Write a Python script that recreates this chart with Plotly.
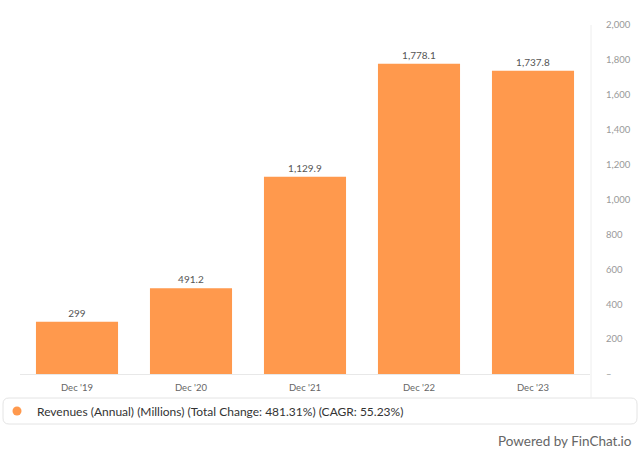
import plotly.graph_objects as go

periods = ["Dec '19", "Dec '20", "Dec '21", "Dec '22", "Dec '23"]
revenues = [299.0, 491.2, 1129.9, 1778.1, 1737.8]
value_labels = ["299", "491.2", "1,129.9", "1,778.1", "1,737.8"]
y_ticks = [0, 200, 400, 600, 800, 1000, 1200, 1400, 1600, 1800, 2000]
y_tick_text = ["–", "200", "400", "600", "800", "1,000", "1,200", "1,400", "1,600", "1,800", "2,000"]
series_name = "Revenues (Annual) (Millions) (Total Change: 481.31%) (CAGR: 55.23%)"

ORANGE = "#ff994d"
FONT = "Lato, Inter, sans-serif"

# plot area in pixels: l=20, r=50, t=25, b=79
L, R, T, B = 20, 50, 25, 79
pw, ph = 640 - L - R, 453 - T - B


def px(x):
    return (x - L) / pw


def py(y):
    return (453 - B - y) / ph


fig = go.Figure()
fig.add_trace(go.Bar(
    x=periods, y=revenues, width=0.72,
    marker=dict(color=ORANGE, line=dict(width=0)),
    text=value_labels, textposition="outside", cliponaxis=False,
    textfont=dict(size=10, color="#555555", family=FONT),
    showlegend=False, hoverinfo="skip",
))
# legend entry with a round marker
fig.add_trace(go.Scatter(
    x=[None], y=[None], mode="markers", name=series_name,
    marker=dict(color=ORANGE, size=9, symbol="circle"),
))

# rounded legend box
x0, x1, y0, y1, r = 3, 637, 398, 424, 6
path = (f"M {px(x0 + r)},{py(y0)} L {px(x1 - r)},{py(y0)} Q {px(x1)},{py(y0)} {px(x1)},{py(y0 + r)} "
        f"L {px(x1)},{py(y1 - r)} Q {px(x1)},{py(y1)} {px(x1 - r)},{py(y1)} L {px(x0 + r)},{py(y1)} "
        f"Q {px(x0)},{py(y1)} {px(x0)},{py(y1 - r)} L {px(x0)},{py(y0 + r)} Q {px(x0)},{py(y0)} {px(x0 + r)},{py(y0)} Z")
fig.add_shape(type="path", xref="paper", yref="paper", path=path,
              line=dict(color="#e4e4e4", width=1), fillcolor="rgba(0,0,0,0)")

# right vertical divider
fig.add_shape(type="line", xref="paper", yref="paper",
              x0=px(591), x1=px(591), y0=py(25), y1=py(398),
              line=dict(color="#eeeeee", width=1))

fig.add_annotation(
    text="Powered by FinChat.io", xref="paper", yref="paper",
    x=px(634), y=py(441), xanchor="right", yanchor="middle", showarrow=False,
    font=dict(size=13.5, color="#666666", family=FONT),
)

fig.update_layout(
    width=640, height=453,
    paper_bgcolor="white", plot_bgcolor="white",
    margin=dict(l=L, r=R, t=T, b=B, autoexpand=False),
    font=dict(family=FONT, color="#555555"),
    legend=dict(
        x=px(-3), y=py(411), xanchor="left", yanchor="middle",
        orientation="h", bgcolor="rgba(0,0,0,0)",
        font=dict(size=12, color="#333333", family=FONT),
    ),
    xaxis=dict(
        range=[-0.5, 4.5], automargin=False,
        showgrid=False, showline=True, linecolor="#e8e8e8", linewidth=1,
        ticks="", tickfont=dict(size=9.5, color="#666666"), ticklabelstandoff=5,
    ),
    yaxis=dict(
        side="right", range=[0, 2000], tickvals=y_ticks, ticktext=y_tick_text,
        automargin=False,
        showgrid=False, zeroline=False, showline=False, ticks="",
        tickfont=dict(size=9.5, color="#999999"), ticklabelstandoff=15,
    ),
)

fig.write_html("out.html", config={"displayModeBar": False},
               post_script="document.body.style.margin='0';")
